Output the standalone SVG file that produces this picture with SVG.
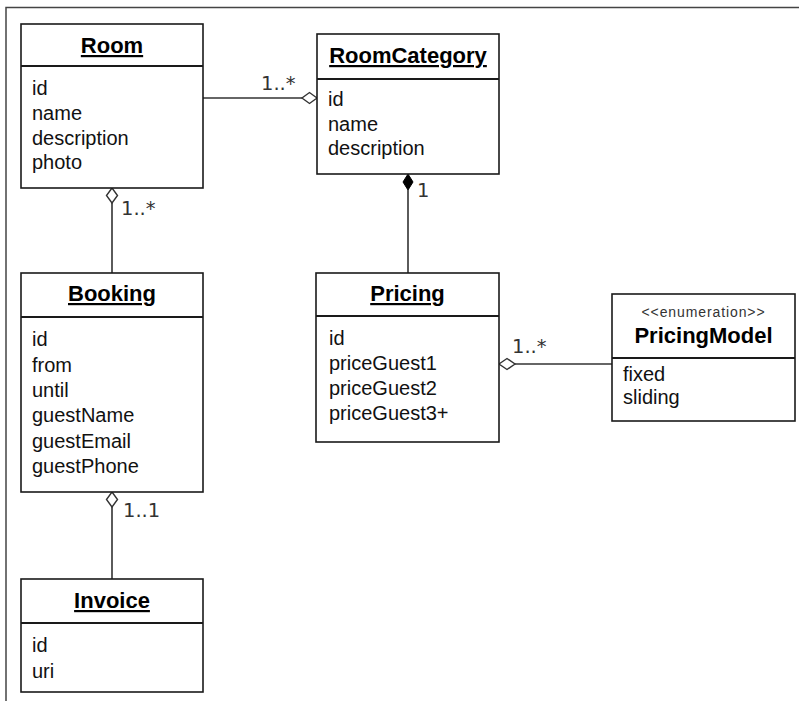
<svg xmlns="http://www.w3.org/2000/svg" width="799" height="701" viewBox="0 0 799 701">
<style>
.box{fill:#fff;stroke:#1a1a1a;stroke-width:1.6}
.div{stroke:#1a1a1a;stroke-width:1.8}
.title{font-family:"Liberation Sans",Arial,sans-serif;font-weight:bold;font-size:22px;fill:#000;text-anchor:middle;text-decoration:underline}
.ptitle{font-family:"Liberation Sans",Arial,sans-serif;font-weight:bold;font-size:22px;fill:#000;text-anchor:middle}
.attr{font-family:"Liberation Sans",Arial,sans-serif;font-size:20px;fill:#111}
.stereo{font-family:"Liberation Sans",Arial,sans-serif;font-size:14px;fill:#333;text-anchor:middle;letter-spacing:0.9px}
.lbl{font-family:"DejaVu Sans",sans-serif;font-size:19.5px;fill:#333}
.conn{stroke:#333;stroke-width:1.6;fill:none}
.agg{fill:#fff;stroke:#333;stroke-width:1.4}
.comp{fill:#000;stroke:#000;stroke-width:1}
.frame{stroke:#444;stroke-width:1.5;fill:none}
</style>
<rect width="799" height="701" fill="#fff"/>
<path class="frame" d="M6,701 V7.5 H799"/>

<g id="connectors">
  <line class="conn" x1="203" y1="98" x2="302" y2="98"/>
  <path class="agg" d="M317,98 L309.5,92.5 L302,98 L309.5,103.5 Z"/>
  <text class="lbl" x="261" y="90">1..*</text>

  <line class="conn" x1="408" y1="190" x2="408" y2="273"/>
  <path class="comp" d="M408,174 L413,182 L408,190 L403,182 Z"/>
  <text class="lbl" x="417" y="197">1</text>

  <line class="conn" x1="112" y1="203" x2="112" y2="273"/>
  <path class="agg" d="M112,188 L117.5,195.5 L112,203 L106.5,195.5 Z"/>
  <text class="lbl" x="121" y="215">1..*</text>

  <line class="conn" x1="515" y1="364" x2="612" y2="364"/>
  <path class="agg" d="M499,364 L507,358.5 L515,364 L507,369.5 Z"/>
  <text class="lbl" x="512" y="353">1..*</text>

  <line class="conn" x1="112" y1="507" x2="112" y2="579"/>
  <path class="agg" d="M112,492 L117.5,499.5 L112,507 L106.5,499.5 Z"/>
  <text class="lbl" x="123" y="517">1..1</text>
</g>

<g id="Room">
  <rect class="box" x="21" y="24" width="182" height="164"/>
  <line class="div" x1="21" y1="66" x2="203" y2="66"/>
  <text class="title" x="112" y="53">Room</text>
  <text class="attr" x="32" y="95">id</text>
  <text class="attr" x="32" y="120">name</text>
  <text class="attr" x="32" y="144.5">description</text>
  <text class="attr" x="32" y="169">photo</text>
</g>

<g id="RoomCategory">
  <rect class="box" x="317" y="34" width="182" height="140"/>
  <line class="div" x1="317" y1="79" x2="499" y2="79"/>
  <text class="title" x="408" y="63">RoomCategory</text>
  <text class="attr" x="328" y="106">id</text>
  <text class="attr" x="328" y="130.5">name</text>
  <text class="attr" x="328" y="155">description</text>
</g>

<g id="Booking">
  <rect class="box" x="21" y="273" width="182" height="219"/>
  <line class="div" x1="21" y1="317" x2="203" y2="317"/>
  <text class="title" x="112" y="301">Booking</text>
  <text class="attr" x="32" y="346">id</text>
  <text class="attr" x="32" y="371.5">from</text>
  <text class="attr" x="32" y="397">until</text>
  <text class="attr" x="32" y="422">guestName</text>
  <text class="attr" x="32" y="447.5">guestEmail</text>
  <text class="attr" x="32" y="473">guestPhone</text>
</g>

<g id="Pricing">
  <rect class="box" x="316" y="273" width="183" height="169"/>
  <line class="div" x1="316" y1="316" x2="499" y2="316"/>
  <text class="title" x="407.5" y="301">Pricing</text>
  <text class="attr" x="329" y="345">id</text>
  <text class="attr" x="329" y="370">priceGuest1</text>
  <text class="attr" x="329" y="395">priceGuest2</text>
  <text class="attr" x="329" y="420">priceGuest3+</text>
</g>

<g id="PricingModel">
  <rect class="box" x="612" y="294" width="183" height="127"/>
  <line class="div" x1="612" y1="358" x2="795" y2="358"/>
  <text class="stereo" x="703.5" y="317">&lt;&lt;enumeration&gt;&gt;</text>
  <text class="ptitle" x="703.5" y="343">PricingModel</text>
  <text class="attr" x="623" y="381">fixed</text>
  <text class="attr" x="623" y="404">sliding</text>
</g>

<g id="Invoice">
  <rect class="box" x="21" y="579" width="182" height="113"/>
  <line class="div" x1="21" y1="623" x2="203" y2="623"/>
  <text class="title" x="112" y="608">Invoice</text>
  <text class="attr" x="32" y="652">id</text>
  <text class="attr" x="32" y="678">uri</text>
</g>
</svg>
